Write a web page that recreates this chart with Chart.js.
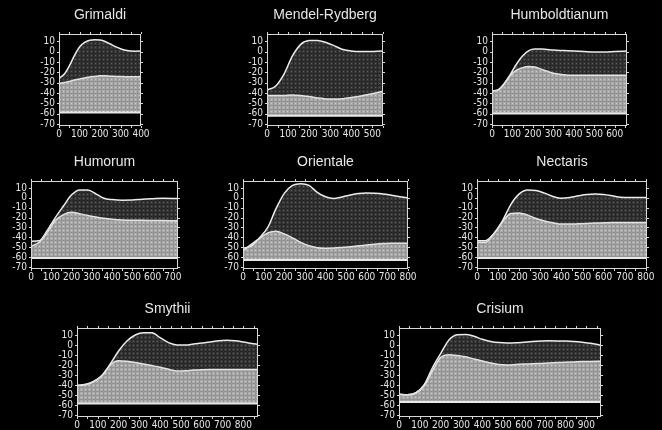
<!DOCTYPE html>
<html><head><meta charset="utf-8">
<script src="https://cdn.jsdelivr.net/npm/chart.js@4/dist/chart.umd.min.js"></script>
<style>
html,body{margin:0;padding:0;background:#000;width:662px;height:430px;overflow:hidden}
canvas{position:absolute}
</style></head><body>
<script>
// ---------- data ----------
const yTicks = [10, 0, -10, -20, -30, -40, -50, -60, -70];

const grimaldiX     = [0,25,50,75,100,125,150,175,200,225,250,275,300,325,350,375,400];
const grimaldiUpper = [-26,-22,-14,-4,4.5,9,11,11.5,11.2,9.8,7.3,4.8,2.8,1.3,0.5,0.4,0.5];
const grimaldiLower = [-31,-30,-29,-27.5,-26.5,-25.5,-24.5,-24,-23.5,-23.5,-23.8,-24,-24.2,-24.3,-24.3,-24.3,-24.3];
const grimaldiBase  = -59;
const grimaldiTicks = [0,100,200,300,400];

const mendelX     = [0,40,80,120,160,200,240,280,320,360,400,440,480,520,550];
const mendelUpper = [-37,-33.5,-22,-4.5,7,10.6,10.8,8.8,5.5,2,0.5,0,0,0.3,0.5];
const mendelLower = [-42.6,-42.5,-42.4,-42,-42.5,-43.5,-44.8,-45.8,-46,-45.6,-44.5,-43.2,-41.5,-39.8,-38.4];
const mendelBase  = -62;
const mendelTicks = [0,100,200,300,400,500];

const humboldtX     = [0,30,60,90,120,150,180,210,240,270,300,350,400,450,500,550,600,660];
const humboldtUpper = [-38,-37,-31,-22,-12,-4,1,2.5,2.5,2,1.5,1,0.5,0,-0.5,-0.5,0,0.5];
const humboldtLower = [-38,-37,-31,-23,-18,-15.5,-14.5,-15,-17,-19,-21,-22.5,-23,-23,-23,-23,-23,-23];
const humboldtBase  = -60;
const humboldtTicks = [0,100,200,300,400,500,600];

const humorumX     = [0,40,80,120,160,200,240,280,320,360,400,450,500,550,600,650,700,725];
const humorumUpper = [-44,-43.5,-33,-20,-8.3,3,8,7.9,4,-0.5,-1.8,-2.4,-2.3,-1.4,-0.9,-0.5,-0.6,-0.8];
const humorumLower = [-49,-45,-35,-23,-17,-14.6,-16,-18,-19.5,-20.7,-21.6,-22.4,-22.8,-22.8,-22.9,-23,-23.2,-23.3];
const humorumBase  = -61;
const humorumTicks = [0,100,200,300,400,500,600,700];

const orientaleX     = [0,40,80,120,160,200,240,280,320,360,400,440,480,520,560,600,640,680,720,760,800];
const orientaleUpper = [-51,-48.6,-40.5,-30,-11,4.5,12.6,14.3,12.6,5.5,1,-0.8,0.8,2.8,4.3,4.8,4.6,3.9,2.5,1.1,0.1];
const orientaleLower = [-53.5,-47,-41,-35.5,-33.8,-36.5,-40.5,-45,-48.5,-50.4,-50.9,-50.8,-50.2,-49.4,-48.6,-47.7,-46.9,-46.3,-45.9,-45.9,-45.9];
const orientaleBase  = -63;
const orientaleTicks = [0,100,200,300,400,500,600,700,800];

const nectarisX     = [0,40,80,120,160,200,240,280,320,360,400,440,480,520,560,600,640,680,720,760,805];
const nectarisUpper = [-43.4,-43.5,-36,-23.5,-6.8,4,8,7.3,4.7,1.4,-0.4,0.4,2,3.4,3.8,3.4,2.1,0.5,0.2,0.2,0.2];
const nectarisLower = [-44.8,-45,-36.5,-24.5,-15.9,-15.3,-17.5,-21,-23.5,-25.3,-26.6,-26.6,-26.3,-26,-25.6,-25.3,-25,-25,-25,-25,-25];
const nectarisBase  = -61;
const nectarisTicks = [0,100,200,300,400,500,600,700,800];

const smythiiX     = [0,40,80,120,160,200,240,280,320,360,400,440,480,520,560,600,640,680,720,760,800,840,870];
const smythiiUpper = [-40.4,-39.5,-36.5,-30.5,-19,-6,4,10,12.3,12.2,7.3,2.4,0.1,0,1,2,3,4.2,4.7,4.2,3,1.6,0.7];
const smythiiLower = [-40.4,-39.5,-36.5,-30.5,-20,-15.7,-16.3,-17.5,-19,-20.6,-22.3,-24.3,-26,-25.8,-25.1,-24.7,-24.5,-24.5,-24.5,-24.5,-24.5,-24.5,-24.5];
const smythiiBase  = -58.5;
const smythiiTicks = [0,100,200,300,400,500,600,700,800];

const crisiumX     = [0,40,80,120,160,200,240,280,320,360,400,440,480,520,560,600,640,680,720,760,800,840,880,920,970];
const crisiumUpper = [-49.2,-49.8,-48,-40,-23,-8.6,5,10.2,10.6,8.7,5.7,3.6,2.4,2,2.2,2.8,3.4,3.9,4.2,4.1,3.9,3.4,2.7,1.8,-0.2];
const crisiumLower = [-49.2,-49.8,-48,-41,-26,-12.5,-9.8,-10.5,-11.8,-14,-16,-18,-19.5,-19.9,-19.5,-19.1,-18.8,-18.4,-18,-17.6,-17.2,-16.9,-16.6,-16.4,-16.2];
const crisiumBase  = -57;
const crisiumTicks = [0,100,200,300,400,500,600,700,800,900];

// ---------- layout ----------
const panels = [
  {title:'Grimaldi',       x:grimaldiX,  up:grimaldiUpper,  lo:grimaldiLower,  base:grimaldiBase,  ticks:grimaldiTicks,  xMax:400, box:[59,141,34,126]},
  {title:'Mendel-Rydberg', x:mendelX,    up:mendelUpper,    lo:mendelLower,    base:mendelBase,    ticks:mendelTicks,    xMax:550, box:[267,383,34,126]},
  {title:'Humboldtianum',  x:humboldtX,  up:humboldtUpper,  lo:humboldtLower,  base:humboldtBase,  ticks:humboldtTicks,  xMax:660, box:[492,627,34,126]},
  {title:'Humorum',        x:humorumX,   up:humorumUpper,   lo:humorumLower,   base:humorumBase,   ticks:humorumTicks,   xMax:725, box:[31,178,181,269]},
  {title:'Orientale',      x:orientaleX, up:orientaleUpper, lo:orientaleLower, base:orientaleBase, ticks:orientaleTicks, xMax:800, box:[243,408,181,269]},
  {title:'Nectaris',       x:nectarisX,  up:nectarisUpper,  lo:nectarisLower,  base:nectarisBase,  ticks:nectarisTicks,  xMax:805, box:[477,647,181,269]},
  {title:'Smythii',        x:smythiiX,   up:smythiiUpper,   lo:smythiiLower,   base:smythiiBase,   ticks:smythiiTicks,   xMax:870, box:[77,258,328,417]},
  {title:'Crisium',        x:crisiumX,   up:crisiumUpper,   lo:crisiumLower,   base:crisiumBase,   ticks:crisiumTicks,   xMax:970, box:[399,601,328,417]}
];

const LW = 34, RP = 22, TH = 33, BH = 18;
const TXT = '#e6e6e6';
const TICKFONT = "'Liberation Sans Narrow','DejaVu Sans Condensed','Liberation Sans',Arial,sans-serif";
const TITLEFONT = "'Liberation Sans',Arial,sans-serif";

function makePattern(base, line, dot){
  const c = document.createElement('canvas'); c.width = 4; c.height = 4;
  const g = c.getContext('2d');
  g.fillStyle = base; g.fillRect(0,0,4,4);
  g.fillStyle = line; g.fillRect(0,0,4,1); g.fillRect(0,0,1,4);
  g.fillStyle = dot; g.fillRect(2,2,1,1);
  return g.createPattern(c,'repeat');
}
const darkPat  = makePattern('#383838','#262626','#575757');
const lightPat = makePattern('#ababab','#939393','#c8c8c8');

const framePlugin = {
  id:'frame',
  afterDatasetsDraw(chart){
    const {ctx, chartArea:a, scales:{x, y}} = chart;
    ctx.save();
    ctx.strokeStyle = '#d8d8d8'; ctx.lineWidth = 1;
    ctx.strokeRect(Math.round(a.left)+0.5, Math.round(a.top)+0.5, Math.round(a.right-a.left)-1, Math.round(a.bottom-a.top)-1);
    ctx.beginPath();
    for (let v = 0; v <= x.max + 0.01; v += 50){
      const px = Math.round(x.getPixelForValue(v)) + 0.5;
      ctx.moveTo(px, a.bottom); ctx.lineTo(px, a.bottom + 2);
      ctx.moveTo(px, a.top); ctx.lineTo(px, a.top - 2);
    }
    for (const v of yTicks){
      const py = Math.round(y.getPixelForValue(v)) + 0.5;
      ctx.moveTo(a.left, py); ctx.lineTo(a.left - 2, py);
      ctx.moveTo(a.right, py); ctx.lineTo(a.right + 2, py);
    }
    ctx.stroke();
    ctx.restore();
  }
};

panels.forEach(p => {
  const [l, r, t, b] = p.box;
  const cv = document.createElement('canvas');
  cv.width = (r - l) + LW + RP;
  cv.height = (b - t) + TH + BH;
  cv.style.left = (l - LW) + 'px';
  cv.style.top = (t - TH) + 'px';
  document.body.appendChild(cv);
  const pts = arr => p.x.map((xv, i) => ({x: xv, y: arr[i]}));
  new Chart(cv, {
    type: 'line',
    data: {
      datasets: [
        {data: pts(p.lo), borderColor:'#e2e2e2', borderWidth:1.5, pointRadius:0,
         cubicInterpolationMode:'monotone', fill:{value:p.base}, backgroundColor:lightPat},
        {data: pts(p.up), borderColor:'#ececec', borderWidth:1.5, pointRadius:0,
         cubicInterpolationMode:'monotone', fill:0, backgroundColor:darkPat},
        {data: [{x:0, y:p.base}, {x:p.xMax, y:p.base}], borderColor:'#e8e8e8', borderWidth:2,
         pointRadius:0, fill:false}
      ]
    },
    options: {
      responsive:false, animation:false, devicePixelRatio:1,
      layout:{padding:{left:0, right:RP, top:0, bottom:0}},
      plugins:{
        legend:{display:false}, tooltip:{enabled:false},
        filler:{drawTime:'beforeDatasetsDraw'},
        title:{display:true, fullSize:false, text:p.title, color:TXT,
               font:{family:TITLEFONT, size:14, weight:'normal'}, padding:{top:5.6, bottom:10.6}}
      },
      scales:{
        x:{type:'linear', min:0, max:p.xMax,
           grid:{display:false, drawTicks:false}, border:{display:false},
           ticks:{color:TXT, font:{family:TICKFONT, size:10}, padding:2, autoSkip:false, maxRotation:0,
                  callback:v => String(v)},
           afterBuildTicks:s => { s.ticks = p.ticks.map(v => ({value:v})); },
           afterFit:s => { s.height = BH; }},
        y:{type:'linear', min:-72, max:17,
           grid:{display:false, drawTicks:false}, border:{display:false},
           ticks:{color:TXT, font:{family:TICKFONT, size:10}, padding:4, autoSkip:false,
                  callback:v => String(v)},
           afterBuildTicks:s => { s.ticks = yTicks.map(v => ({value:v})); },
           afterFit:s => { s.width = LW; }}
      }
    },
    plugins:[framePlugin]
  });
});
</script>
</body></html>
